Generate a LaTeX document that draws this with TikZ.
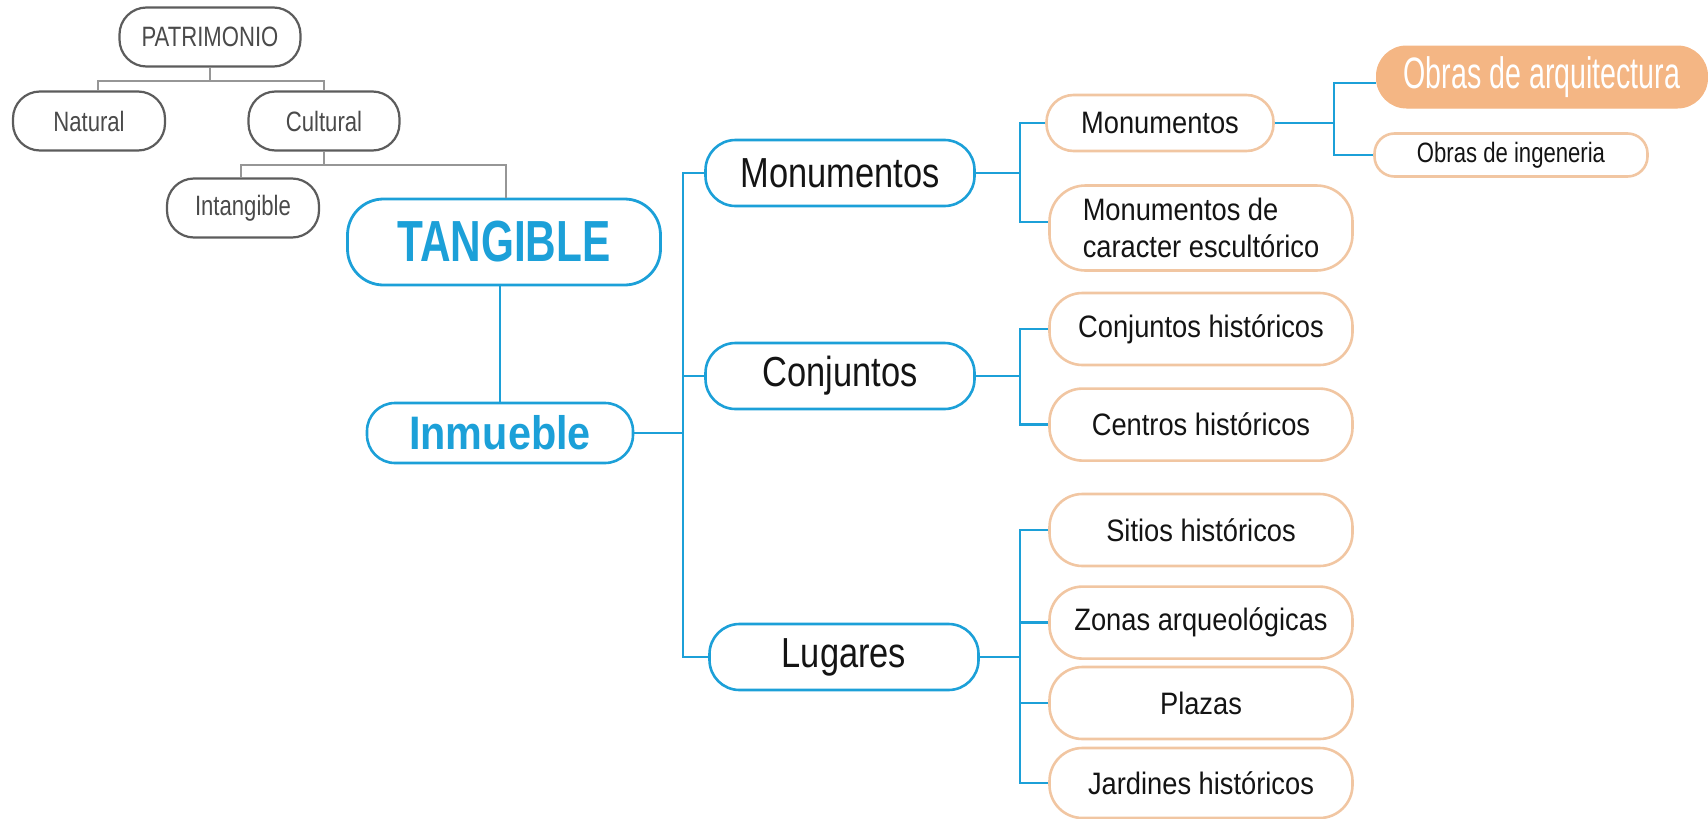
\documentclass[tikz,border=0pt]{standalone}
\usepackage{fontspec}
\setmainfont{Liberation Sans}
\newfontfamily\grisfont{Liberation Sans}[FakeStretch=0.79]
\newfontfamily\nivelfont{Liberation Sans}[FakeStretch=0.82]
\newfontfamily\hojafont{Liberation Sans}[FakeStretch=0.88]
\newfontfamily\tangfont{Liberation Sans}[FakeStretch=0.73]
\newfontfamily\obrafont{Liberation Sans}[FakeStretch=0.65]
\usepackage{tikz}
\usetikzlibrary{positioning}

\definecolor{azul}{RGB}{28,160,216}
\definecolor{durazno}{RGB}{241,198,162}
\definecolor{naranja}{RGB}{244,182,132}
\definecolor{gris}{RGB}{92,92,92}
\definecolor{grisclaro}{RGB}{150,150,150}
\definecolor{tinta}{RGB}{20,20,20}

\begin{document}
\begin{tikzpicture}[x=1pt,y=-1pt,
    caja/.style={draw,inner sep=0pt,align=center},
    grisnodo/.style={caja,draw=gris,line width=2.2pt,rounded corners=27pt,
      minimum width=152pt,minimum height=59pt,text=gris!80!black,
      font=\grisfont\fontsize{28}{30}\selectfont},
    nivel/.style={caja,draw=azul,line width=2.6pt,rounded corners=30pt,
      minimum width=269pt,minimum height=66pt,text=tinta,
      font=\nivelfont\fontsize{42}{44}\selectfont},
    hoja/.style={caja,draw=durazno,line width=2.6pt,rounded corners=33pt,
      minimum width=303pt,minimum height=72pt,text=tinta,
      font=\hojafont\fontsize{31}{37}\selectfont},
    gline/.style={draw=grisclaro,line width=1.8pt},
    bline/.style={draw=azul,line width=2.4pt}]
  \useasboundingbox (0,0) rectangle (1708,819);

  \node[grisnodo, minimum width=181pt] (patri)    at (210,37)  {PATRIMONIO};
  \node[grisnodo]                      (natural)  at (89,121)  {Natural};
  \node[grisnodo, minimum width=151pt] (cultural) at (324,121) {Cultural};
  \node[grisnodo]                      (intang)   at (243,208) {Intangible};

  \node[caja, draw=azul, line width=2.8pt, rounded corners=36pt,
        minimum width=313pt, minimum height=86pt, text=azul,
        font=\tangfont\bfseries\fontsize{58}{60}\selectfont] (tang) at (504,242) {TANGIBLE};
  \node[caja, draw=azul, line width=2.6pt, rounded corners=28pt,
        minimum width=266pt, minimum height=60pt, text=azul,
        font=\hojafont\bfseries\fontsize{47}{50}\selectfont] (inm) at (500,433) {Inmueble};

  \node[nivel] (mon) at (840,173) {Monumentos};
  \node[nivel] (con) at (840,376) {Conjuntos};
  \node[nivel] (lug) at (844,657) {Lugares};

  \node[hoja, minimum width=227pt, minimum height=56pt, rounded corners=27pt] (mon2) at (1160,123) {Monumentos};
  \node[hoja, minimum height=85pt, rounded corners=36pt, align=left] (esc) at (1201,228) {Monumentos de\\caracter escultórico};
  \node[hoja] (conh) at (1201,329)            {Conjuntos históricos};
  \node[hoja] (cen)  [below=21pt of conh]     {Centros históricos};
  \node[hoja] (sit)  at (1201,530)            {Sitios históricos};
  \node[hoja] (zon)  [below=18pt of sit]      {Zonas arqueológicas};
  \node[hoja] (pla)  at (1201,703)            {Plazas};
  \node[hoja, minimum height=70pt] (jar) at (1201,783) {Jardines históricos};

  \node[caja, draw=naranja, fill=naranja, line width=1pt, rounded corners=30pt,
        minimum width=331pt, minimum height=62pt, text=white,
        font=\obrafont\fontsize{44}{46}\selectfont] (arq) at (1542,77) {Obras de arquitectura};
  \node[hoja, minimum width=273pt, minimum height=43pt, rounded corners=20pt,
        font=\grisfont\fontsize{28}{30}\selectfont] (ing) at (1511,155) {Obras de ingeneria};

  \coordinate (g1) at ([yshift=-13pt]patri.south);
  \coordinate (g2) at ([yshift=-13pt]cultural.south);
  \coordinate (s1) at (683,433);
  \coordinate (s2) at (1020,173);
  \coordinate (s3) at (1020,376);
  \coordinate (s4) at (1020,657);
  \coordinate (s5) at (1334,123);

  \draw[gline] (patri.south) -- (g1);
  \draw[gline] ([xshift=9pt]natural.north) |- (g1) -| (cultural.north);
  \draw[gline] (cultural.south) -- (g2);
  \draw[gline] ([xshift=-2pt]intang.north) |- (g2) -| ([xshift=2pt]tang.north);

  \draw[bline] (tang.south -| inm.north) -- (inm.north);
  \draw[bline] (inm.east) -- (s1);
  \draw[bline] (mon.west) -| (s1) |- (lug.west);
  \draw[bline] (con.west) -- (con.west -| s1);

  \draw[bline] (mon.east) -- (s2);
  \draw[bline] (mon2.west) -| (s2) |- ([yshift=6pt]esc.west);
  \draw[bline] (con.east) -- (s3);
  \draw[bline] (conh.west) -| (s3) |- (cen.west);
  \draw[bline] (lug.east) -- (s4);
  \draw[bline] (sit.west) -| (s4) |- (jar.west);
  \draw[bline] (zon.west) -- (zon.west -| s4);
  \draw[bline] (pla.west) -- (pla.west -| s4);

  \draw[bline] (mon2.east) -- (s5);
  \draw[bline] ([yshift=-6pt]arq.west) -| (s5) |- (ing.west);
\end{tikzpicture}
\end{document}
